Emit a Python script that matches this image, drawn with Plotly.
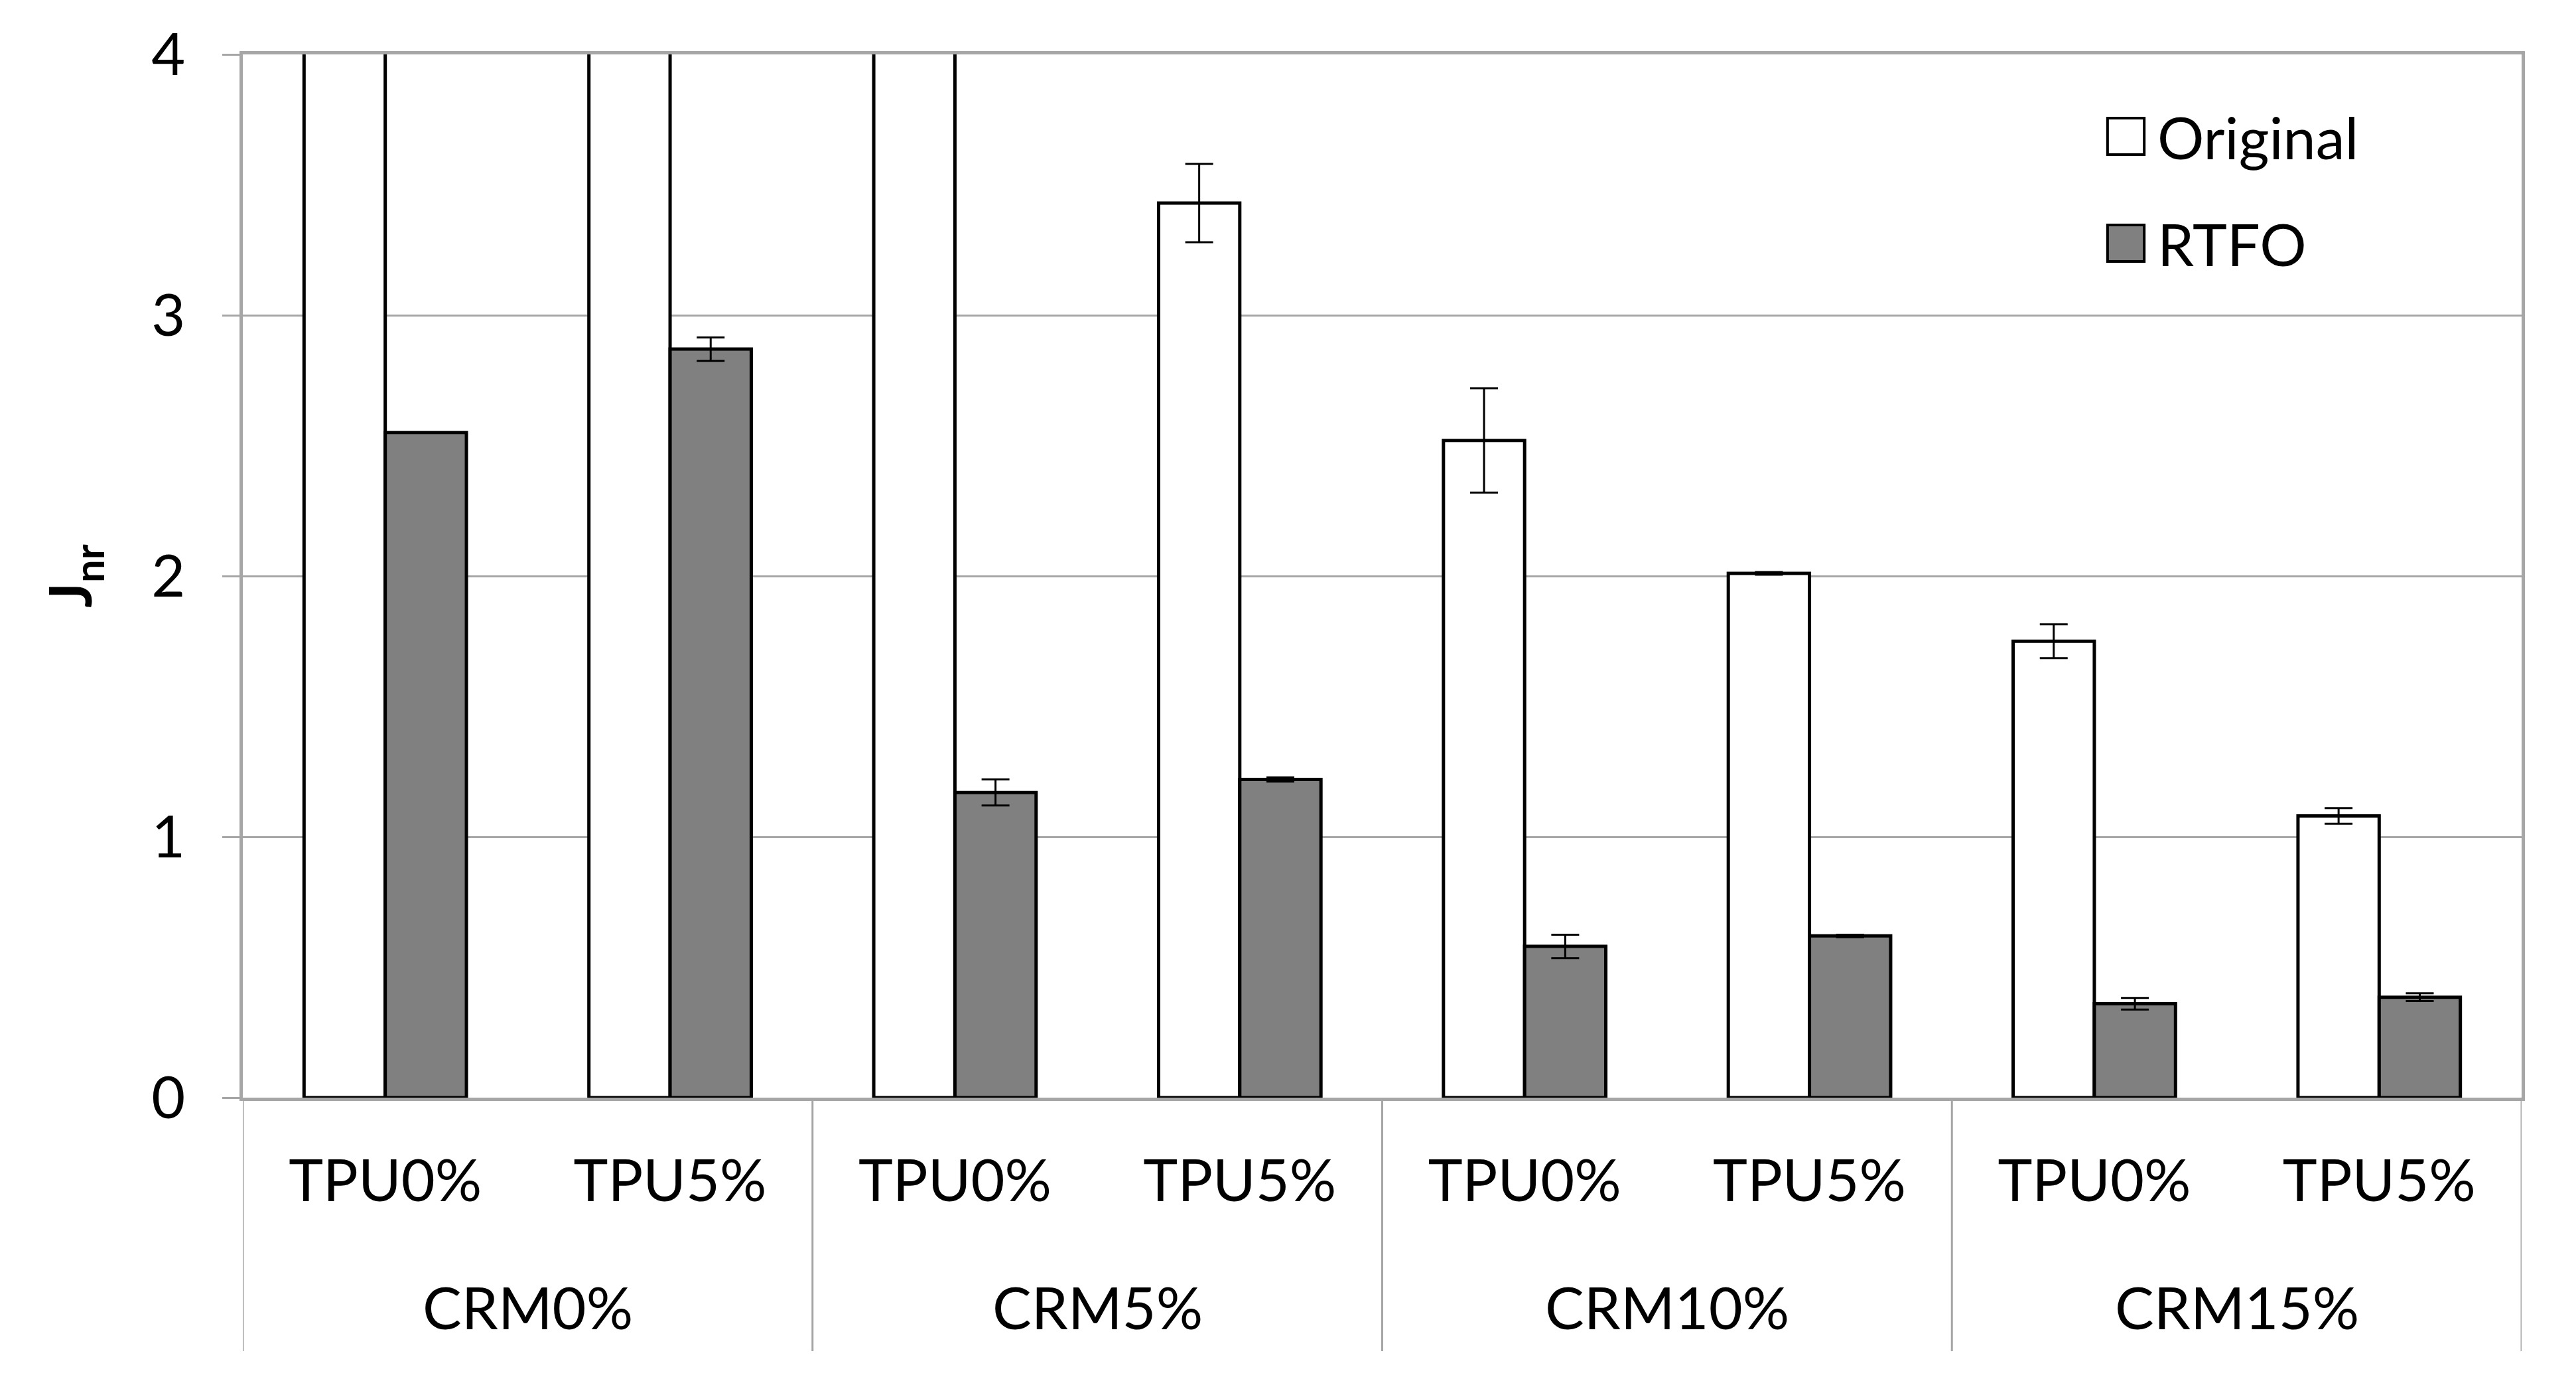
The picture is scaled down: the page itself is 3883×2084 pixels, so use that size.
import plotly.graph_objects as go

# ---- data ----
crm_groups = ["CRM0%", "CRM5%", "CRM10%", "CRM15%"]
tpu_levels = ["TPU0%", "TPU5%"]
series_names = ["Original", "RTFO"]

# Original values for CRM0%/TPU0%, CRM0%/TPU5%, CRM5%/TPU0% exceed the axis (clipped at 4)
original_vals = [5.5, 5.2, 4.6, 3.43, 2.52, 2.01, 1.75, 1.08]
original_err = [0.0, 0.0, 0.0, 0.15, 0.20, 0.005, 0.065, 0.03]
rtfo_vals = [2.55, 2.87, 1.17, 1.22, 0.58, 0.62, 0.36, 0.385]
rtfo_err = [0.0, 0.045, 0.05, 0.008, 0.045, 0.005, 0.022, 0.015]

y_ticks = [0, 1, 2, 3, 4]

# ---- derived positions ----
cat_labels = [t for g in crm_groups for t in tpu_levels]
x_idx = list(range(len(cat_labels)))
n_sub = len(tpu_levels)
group_centers = [gi * n_sub + (n_sub - 1) / 2 for gi in range(len(crm_groups))]
divider_x = [gi * n_sub - 0.5 for gi in range(len(crm_groups) + 1)]

FONT = "Lato"
FS = 88
GRAY = "#a6a6a6"

fig = go.Figure()
fig.add_trace(go.Bar(
    x=x_idx, y=original_vals, name=series_names[0],
    marker=dict(color="white", line=dict(color="black", width=5)),
    error_y=dict(type="data", array=original_err, color="black", thickness=3, width=21),
    showlegend=False,
))
fig.add_trace(go.Bar(
    x=x_idx, y=rtfo_vals, name=series_names[1],
    marker=dict(color="#808080", line=dict(color="black", width=5)),
    error_y=dict(type="data", array=rtfo_err, color="black", thickness=3, width=21),
    showlegend=False,
))

fig.update_layout(
    width=3875, height=2076,
    margin=dict(l=358, r=82, t=74, b=430),
    paper_bgcolor="white", plot_bgcolor="white",
    barmode="group", bargap=0.43, bargroupgap=0,
    font=dict(family=FONT, size=FS, color="black"),
)

fig.update_xaxes(
    range=[-0.5, len(cat_labels) - 0.5],
    tickmode="array", tickvals=x_idx, ticktext=cat_labels,
    ticks="", showgrid=False, zeroline=False,
    showline=True, linecolor=GRAY, linewidth=5, mirror=True,
    ticklabelstandoff=45,
    tickfont=dict(family=FONT, size=FS, color="black"),
)
fig.update_yaxes(
    range=[0, 4], tickmode="array", tickvals=y_ticks,
    ticks="outside", ticklen=26, tickwidth=3, tickcolor=GRAY,
    showgrid=True, gridcolor=GRAY, gridwidth=2.5,
    zeroline=False,
    showline=True, linecolor=GRAY, linewidth=5, mirror=True,
    ticklabelstandoff=38,
    tickfont=dict(family=FONT, size=FS, color="black"),
    title=dict(text="<b>J<sub>nr</sub></b>", font=dict(family=FONT, size=FS, color="black"), standoff=62),
)

# group dividers below the axis
for dx in divider_x:
    fig.add_shape(type="line", xref="x", yref="paper", x0=dx, x1=dx, y0=0, y1=-0.243,
                  line=dict(color=GRAY, width=3))

# second-level (CRM) labels
for gc, g in zip(group_centers, crm_groups):
    fig.add_annotation(x=gc, y=-0.2005, xref="x", yref="paper", text=g, showarrow=False,
                       xanchor="center", yanchor="middle",
                       font=dict(family=FONT, size=FS, color="black"))

# manual legend
legend_fills = ["white", "#808080"]
legend_y = [0.9214, 0.819]
for name, fill, ly in zip(series_names, legend_fills, legend_y):
    fig.add_shape(type="rect", xref="paper", yref="paper",
                  x0=0.8183, x1=0.8344, y0=ly - 0.0175, y1=ly + 0.0175,
                  fillcolor=fill, line=dict(color="black", width=4))
    fig.add_annotation(x=0.8395, y=ly, xref="paper", yref="paper", text=name, showarrow=False,
                       xanchor="left", yanchor="middle",
                       font=dict(family=FONT, size=FS, color="black"))

fig.write_html("out.html")
